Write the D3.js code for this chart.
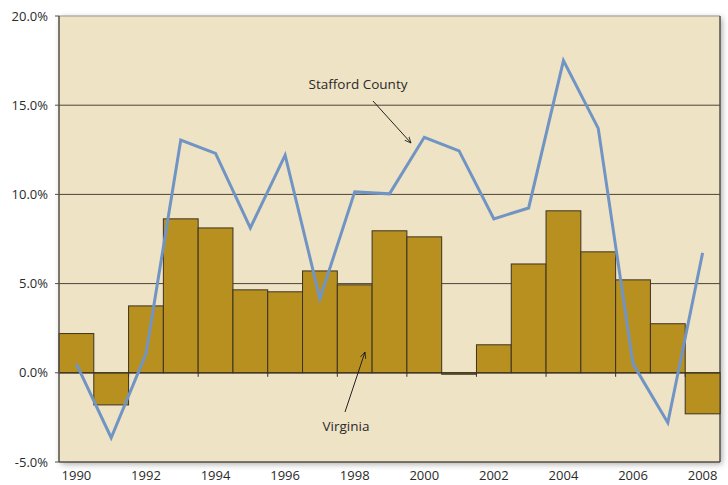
<!DOCTYPE html>
<html>
<head>
<meta charset="utf-8">
<script src="https://cdn.jsdelivr.net/npm/d3@7"></script>
<style>
  body { margin: 0; background: #fff; }
  text { font-family: "Open Sans", "Noto Sans", sans-serif; fill: #2a2a2a; }
</style>
</head>
<body>
<div id="chart"></div>
<script>
// years and growth rates (percent)
var years = [1990,1991,1992,1993,1994,1995,1996,1997,1998,1999,2000,2001,2002,2003,2004,2005,2006,2007,2008];
var virginia = [2.2,-1.8,3.75,8.63,8.12,4.65,4.54,5.71,4.93,7.96,7.62,-0.08,1.57,6.1,9.08,6.78,5.21,2.75,-2.3];
var stafford = [0.5,-3.64,1.06,13.05,12.3,8.12,12.2,4.15,10.14,10.03,13.2,12.44,8.63,9.24,17.5,13.7,0.5,-2.8,6.72];
var yTicks = [-5,0,5,10,15,20];
var gridLines = [5,10,15];

var margin = {top: 16, right: 8, bottom: 23, left: 59},
    width = 728 - margin.left - margin.right,
    height = 485 - margin.top - margin.bottom;

var svg = d3.select("#chart")
    .append("svg")
        .attr("width", 728)
        .attr("height", 485);

var defs = svg.append("defs");
var f = defs.append("filter").attr("id", "shadow").attr("x", "-5%").attr("y", "-5%").attr("width", "110%").attr("height", "110%");
f.append("feDropShadow").attr("dx", 2).attr("dy", 2).attr("stdDeviation", 3).attr("flood-color", "#000").attr("flood-opacity", 0.35);

var g = svg.append("g")
    .attr("transform", "translate(" + margin.left + "," + margin.top + ")");

var x = d3.scaleBand()
    .domain(years)
    .range([0, width])
    .padding(0);

var y = d3.scaleLinear()
    .domain([-5, 20])
    .range([height, 0]);

// plot background
g.append("rect")
    .attr("width", width)
    .attr("height", height)
    .attr("fill", "#efe3c5")
    .attr("filter", "url(#shadow)");

// top & right frame
g.append("line").attr("x1", 0).attr("x2", width).attr("y1", 0).attr("y2", 0)
    .attr("stroke", "#9a958c").attr("stroke-width", 1);
g.append("line").attr("x1", width).attr("x2", width).attr("y1", 0).attr("y2", height)
    .attr("stroke", "#555049").attr("stroke-width", 1.5);

// grid lines
g.selectAll(".grid")
    .data(gridLines)
    .enter().append("line")
        .attr("x1", 0).attr("x2", width)
        .attr("y1", function(d){ return y(d); })
        .attr("y2", function(d){ return y(d); })
        .attr("stroke", "#4a443a")
        .attr("stroke-width", 1);

// bars
g.selectAll(".bar")
    .data(virginia)
    .enter().append("rect")
        .attr("x", function(d, i){ return x(years[i]); })
        .attr("width", x.bandwidth())
        .attr("y", function(d){ return y(Math.max(0, d)); })
        .attr("height", function(d){ return Math.abs(y(d) - y(0)); })
        .attr("fill", "#b79020")
        .attr("stroke", "#3b3222")
        .attr("stroke-width", 1);

// zero line
g.append("line")
    .attr("x1", 0).attr("x2", width)
    .attr("y1", y(0)).attr("y2", y(0))
    .attr("stroke", "#3b3222").attr("stroke-width", 1.2);

// little ticks on zero line
g.selectAll(".ztick")
    .data(years.filter(function(d, i){ return i % 2 == 0 && i > 0; }))
    .enter().append("line")
        .attr("x1", function(d){ return x(d); })
        .attr("x2", function(d){ return x(d); })
        .attr("y1", y(0)).attr("y2", y(0) + 4)
        .attr("stroke", "#3b3222");

// Stafford line
var line = d3.line()
    .x(function(d, i){ return x(years[i]) + x.bandwidth() / 2; })
    .y(function(d){ return y(d); });

g.append("path")
    .datum(stafford)
    .attr("d", line)
    .attr("fill", "none")
    .attr("stroke", "#7094c4")
    .attr("stroke-width", 3)
    .attr("stroke-linejoin", "miter");

// axes frame left & bottom
g.append("line").attr("x1", 0).attr("x2", 0).attr("y1", 0).attr("y2", height)
    .attr("stroke", "#555049").attr("stroke-width", 1.5);
g.append("line").attr("x1", 0).attr("x2", width).attr("y1", height).attr("y2", height)
    .attr("stroke", "#555049").attr("stroke-width", 1.5);

// y labels
g.selectAll(".ylab")
    .data(yTicks)
    .enter().append("text")
        .attr("x", -11)
        .attr("y", function(d){ return y(d); })
        .attr("dy", "0.35em")
        .attr("text-anchor", "end")
        .style("font-size", "13px")
        .text(function(d){ return d.toFixed(1) + "%"; });
g.selectAll(".ytk")
    .data(yTicks)
    .enter().append("line")
        .attr("x1", -4).attr("x2", 0)
        .attr("y1", function(d){ return y(d); })
        .attr("y2", function(d){ return y(d); })
        .attr("stroke", "#555049");

// x labels, every other year
g.selectAll(".xlab")
    .data(years.filter(function(d){ return d % 2 == 0; }))
    .enter().append("text")
        .attr("x", function(d){ return x(d) + x.bandwidth() / 2; })
        .attr("y", height + 18)
        .attr("text-anchor", "middle")
        .style("font-size", "13px")
        .text(function(d){ return d; });

// annotations
defs.append("marker")
    .attr("id", "arrow")
    .attr("viewBox", "0 0 10 10")
    .attr("refX", 9).attr("refY", 5)
    .attr("markerWidth", 7).attr("markerHeight", 7)
    .attr("orient", "auto")
  .append("path")
    .attr("d", "M0,1 L9,5 L0,9")
    .attr("fill", "none")
    .attr("stroke", "#222")
    .attr("stroke-width", 1.2);

g.append("text")
    .attr("x", 358 - margin.left)
    .attr("y", 89 - margin.top)
    .attr("text-anchor", "middle")
    .style("font-size", "13.5px")
    .text("Stafford County");
g.append("line")
    .attr("x1", 373 - margin.left).attr("y1", 101 - margin.top)
    .attr("x2", 411 - margin.left).attr("y2", 143 - margin.top)
    .attr("stroke", "#222").attr("stroke-width", 1)
    .attr("marker-end", "url(#arrow)");

g.append("text")
    .attr("x", 346 - margin.left)
    .attr("y", 431 - margin.top)
    .attr("text-anchor", "middle")
    .style("font-size", "13.5px")
    .text("Virginia");
g.append("line")
    .attr("x1", 345 - margin.left).attr("y1", 412 - margin.top)
    .attr("x2", 365 - margin.left).attr("y2", 352 - margin.top)
    .attr("stroke", "#222").attr("stroke-width", 1)
    .attr("marker-end", "url(#arrow)");
</script>
</body>
</html>
